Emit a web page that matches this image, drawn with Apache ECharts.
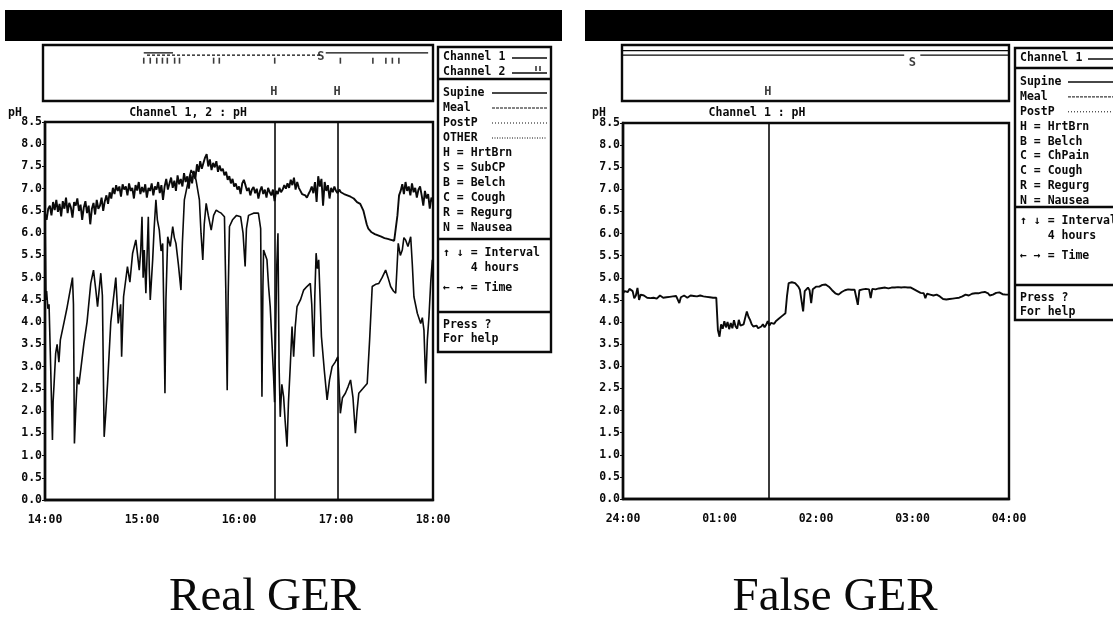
<!DOCTYPE html>
<html>
<head>
<meta charset="utf-8">
<script src="https://cdn.jsdelivr.net/npm/echarts@6/dist/echarts.min.js"></script>
<style>
  html, body { margin: 0; padding: 0; background: #fff; }
  #chart { width: 1113px; height: 617px; }
</style>
</head>
<body>
<div id="chart"></div>
<script>
// ---- time axes (minutes from start of each 4-hour window) ----
const leftTimeLabels = ['14:00', '15:00', '16:00', '17:00', '18:00'];
const rightTimeLabels = ['24:00', '01:00', '02:00', '03:00', '04:00'];

// ---- Real GER: channel 1 pH, one reading per minute (14:00-18:00) ----
const realCh1 = [
  6.45, 6.30, 6.55, 6.62, 6.40, 6.70, 6.52, 6.75, 6.48, 6.66,
  6.38, 6.72, 6.55, 6.80, 6.45, 6.68, 6.58, 6.35, 6.70, 6.62,
  6.78, 6.50, 6.64, 6.30, 6.58, 6.72, 6.45, 6.62, 6.20, 6.55,
  6.68, 6.42, 6.75, 6.55, 6.62, 6.80, 6.50, 6.72, 6.85, 6.66,
  6.92, 6.78, 7.02, 6.88, 7.08, 6.95, 7.05, 6.82, 7.10, 6.98,
  7.05, 6.85, 7.12, 6.95, 7.02, 6.78, 7.08, 6.96, 7.15, 6.88,
  7.04, 6.92, 7.10, 6.80, 7.02, 6.95, 7.12, 6.85, 7.05, 6.98,
  7.15, 6.90, 7.08, 6.75, 7.05, 7.22, 6.98, 7.12, 7.25, 7.02,
  7.18, 6.95, 7.30, 7.10, 7.22, 7.05, 7.35, 7.15, 7.28, 7.00,
  7.32, 7.12, 7.40, 7.22, 7.55, 7.38, 7.62, 7.45, 7.58, 7.70,
  7.78, 7.50, 7.66, 7.42, 7.58, 7.48, 7.62, 7.38, 7.52, 7.40,
  7.45, 7.30, 7.38, 7.20, 7.28, 7.12, 7.22, 7.05, 7.12, 6.98,
  7.05, 6.88, 7.12, 7.20, 7.08, 6.95, 7.02, 6.85, 6.98, 7.04,
  6.90, 7.00, 6.78, 6.95, 7.05, 6.88, 6.98, 6.80, 7.02, 6.92,
  6.85, 6.98, 6.72, 6.95, 6.88, 7.02, 6.92, 6.98, 7.08, 7.00,
  7.12, 7.02, 7.20, 7.08, 7.25, 6.98, 7.15, 7.02, 6.95, 6.88,
  6.92, 6.85, 6.80, 6.88, 6.95, 7.05, 6.90, 7.15, 6.70, 7.28,
  7.05, 7.22, 6.62, 7.15, 6.95, 7.08, 6.78, 7.02, 6.92, 7.05,
  6.95, 6.90, 6.98, 6.92, 6.90, 6.88, 6.86, 6.85, 6.85, 6.82,
  6.80, 6.78, 6.74, 6.70, 6.68, 6.66, 6.62, 6.50, 6.35, 6.20,
  6.10, 6.06, 6.02, 6.00, 5.98, 5.96, 5.95, 5.93, 5.92, 5.90,
  5.89, 5.88, 5.87, 5.86, 5.85, 5.84, 5.83, 5.82, 6.40, 6.85,
  6.95, 7.10, 6.88, 7.15, 6.95, 7.05, 6.85, 7.12, 6.92, 7.02,
  6.80, 6.98, 7.05, 6.85, 6.62, 6.95, 6.78, 6.88, 6.55, 6.80,
  6.70
];

// ---- Real GER: channel 2 pH as [minute, pH] ----
const realCh2 = [
  [0,6.40],[0.6,4.50],[1.0,4.70],[1.8,4.30],[2.5,4.40],[3.5,3.00],[4.6,1.35],[5.0,2.20],[5.6,2.60],[6.6,3.30],
  [7.5,3.50],[8.6,3.10],[9.5,3.60],[11.8,4.00],[13.5,4.30],[15.0,4.60],[16.5,4.90],[17.0,5.00],[17.6,4.40],[18.2,1.27],
  [19.0,2.00],[20.0,2.77],[21.0,2.60],[22.0,2.90],[24.0,3.50],[26.0,4.00],[28.3,4.87],[30.0,5.17],[31.5,4.70],[32.5,4.35],
  [34.5,5.10],[35.5,4.60],[36.6,1.42],[37.5,1.90],[38.7,2.62],[40.7,4.00],[43.8,5.00],[45.3,3.97],[46.8,4.40],[47.4,3.22],
  [48.6,4.57],[51.0,5.25],[52.5,4.90],[54.2,5.55],[56.2,5.85],[58.3,5.17],[59.2,5.60],[60.0,6.37],[60.7,5.00],[61.4,5.62],
  [62.4,4.65],[63.9,6.37],[64.5,5.20],[65.1,4.50],[66.6,5.40],[67.5,6.10],[68.6,6.75],[69.5,6.30],[70.7,6.07],[71.8,5.60],
  [72.8,5.77],[73.6,4.00],[74.2,2.40],[74.8,4.50],[75.9,5.92],[77.5,5.70],[79.0,6.15],[80.0,5.90],[81.0,5.77],[82.5,5.30],
  [84.1,4.72],[85.0,5.80],[86.2,6.75],[88.3,7.12],[90.4,7.42],[92.0,7.30],[93.4,7.20],[95.5,6.75],[96.5,6.00],[97.6,5.40],
  [98.5,6.20],[99.7,6.67],[101.0,6.40],[102.8,6.07],[104.3,6.40],[105.9,6.52],[107.5,6.48],[109.0,6.45],[111.0,6.37],[111.8,4.80],
  [112.7,2.47],[113.3,4.60],[114.1,6.15],[116.0,6.30],[118.5,6.40],[121.0,6.37],[122.5,6.00],[123.8,5.25],[124.6,6.10],[125.9,6.40],
  [129.0,6.45],[132.0,6.45],[133.4,6.10],[134.2,2.32],[134.8,4.80],[135.2,5.62],[137.3,5.40],[138.3,4.80],[139.3,4.35],[140.3,3.60],
  [141.4,2.77],[142.0,2.20],[142.6,3.60],[143.3,5.20],[144.1,6.00],[144.8,3.00],[145.5,1.87],[146.5,2.60],[147.6,2.32],[148.5,1.80],
  [149.7,1.20],[150.6,2.20],[151.7,3.00],[152.8,3.90],[153.8,3.22],[154.8,3.90],[155.9,4.35],[158.0,4.50],[160.0,4.72],[162.0,4.80],
  [164.1,4.87],[165.0,4.40],[166.2,3.22],[166.9,4.60],[167.7,5.55],[168.5,5.20],[169.3,5.40],[170.2,4.50],[171.0,3.67],[172.8,2.90],
  [174.5,2.25],[176.0,2.70],[177.6,3.00],[179.5,3.10],[181.1,3.22],[181.9,2.60],[182.7,1.95],[184.0,2.30],[185.8,2.40],[187.5,2.55],
  [189.0,2.70],[190.5,2.30],[192.0,1.50],[193.0,2.00],[194.1,2.40],[196.5,2.50],[199.3,2.62],[200.8,3.60],[202.4,4.80],[204.5,4.85],
  [206.5,4.87],[208.5,5.00],[210.7,5.17],[212.2,5.00],[213.8,4.80],[215.5,4.70],[216.9,4.65],[217.7,5.20],[218.5,5.77],[219.8,5.50],
  [221.0,5.62],[222.0,5.90],[223.0,5.85],[224.5,5.70],[226.2,5.92],[227.2,5.30],[228.2,4.57],[230.3,4.20],[232.4,3.97],[233.4,4.10],
  [234.4,3.82],[235.5,2.62],[236.5,3.60],[237.5,4.12],[238.6,4.90],[239.6,5.40],[240.0,5.40]
];

// ---- False GER: channel 1 pH, one reading per minute (24:00-04:00) ----
const falseCh1 = [
  4.65, 4.70, 4.73, 4.68, 4.75, 4.77, 4.70, 4.54, 4.60, 4.77,
  4.50, 4.62, 4.65, 4.60, 4.58, 4.55, 4.56, 4.54, 4.58, 4.55,
  4.56, 4.53, 4.55, 4.60, 4.57, 4.55, 4.58, 4.56, 4.54, 4.57,
  4.60, 4.58, 4.56, 4.59, 4.55, 4.43, 4.56, 4.58, 4.60, 4.57,
  4.55, 4.58, 4.60, 4.56, 4.59, 4.62, 4.58, 4.55, 4.60, 4.57,
  4.58, 4.55, 4.57, 4.54, 4.56, 4.52, 4.55, 4.54, 4.55, 3.82,
  3.67, 3.95, 3.85, 4.02, 3.88, 4.00, 3.84, 3.98, 3.86, 4.04,
  3.90, 3.85, 4.05, 3.92, 3.88, 3.95, 4.10, 4.24, 4.12, 4.05,
  3.95, 3.90, 3.88, 3.92, 3.86, 3.87, 3.90, 3.95, 3.88, 3.94,
  4.02, 3.92, 3.98, 4.00, 3.96, 4.02, 4.05, 4.08, 4.10, 4.14,
  4.16, 4.20, 4.60, 4.88, 4.92, 4.90, 4.88, 4.88, 4.84, 4.80,
  4.73, 4.70, 4.24, 4.70, 4.73, 4.78, 4.72, 4.43, 4.74, 4.78,
  4.80, 4.78, 4.80, 4.82, 4.84, 4.83, 4.85, 4.84, 4.80, 4.76,
  4.72, 4.68, 4.65, 4.64, 4.62, 4.66, 4.68, 4.70, 4.72, 4.70,
  4.74, 4.71, 4.73, 4.72, 4.73, 4.70, 4.39, 4.72, 4.75, 4.74,
  4.76, 4.75, 4.77, 4.74, 4.54, 4.75, 4.76, 4.74, 4.77, 4.76,
  4.75, 4.77, 4.76, 4.78, 4.77, 4.76, 4.79, 4.78, 4.80, 4.78,
  4.77, 4.79, 4.80, 4.78, 4.80, 4.79, 4.80, 4.78, 4.77, 4.78,
  4.76, 4.74, 4.72, 4.70, 4.68, 4.66, 4.65, 4.65, 4.54, 4.64,
  4.63, 4.62, 4.62, 4.60, 4.61, 4.62, 4.60, 4.58, 4.55, 4.52,
  4.50, 4.51, 4.50, 4.52, 4.51, 4.53, 4.52, 4.54, 4.54, 4.55,
  4.56, 4.58, 4.60, 4.62, 4.62, 4.60, 4.63, 4.64, 4.62, 4.65,
  4.66, 4.65, 4.68, 4.67, 4.69, 4.68, 4.66, 4.65, 4.60, 4.58,
  4.62, 4.64, 4.66, 4.65, 4.67, 4.65, 4.63, 4.64, 4.62, 4.63,
  4.62
];

// ---- event strips (minutes) ----
const realHeartburn = [142, 181];
const realSymptomS = [171];
const realMealPeriod = [64, 171];
const realSupinePeriods = [[62, 80], [174, 237]];
const realStripTicks = [62, 66, 70, 73.5, 76.5, 81, 84, 105, 108.5, 142.6, 183, 203, 211, 215, 219];
const falseHeartburn = [90.5];
const falseSymptomS = [180];
const falseSupinePeriod = [0, 240];

// ---- legend panels ----
const realLegendChannels = ['Channel 1', 'Channel 2'];
const realLegendSymbols = ['Supine', 'Meal', 'PostP', 'OTHER', 'H = HrtBrn', 'S = SubCP', 'B = Belch', 'C = Cough', 'R = Regurg', 'N = Nausea'];
const falseLegendChannels = ['Channel 1'];
const falseLegendSymbols = ['Supine', 'Meal', 'PostP', 'H = HrtBrn', 'B = Belch', 'C = ChPain', 'C = Cough', 'R = Regurg', 'N = Nausea'];
const intervalText = ['\u2191 \u2193 = Interval', '    4 hours', '\u2190 \u2192 = Time'];
const helpText = ['Press ?', 'For help'];
const captions = ['Real GER', 'False GER'];
const plotTitles = ['Channel 1, 2 : pH', 'Channel 1 : pH'];

// ---------------------------------------------------------------
const INK = '#0a0a0a';
const MONO = '"DejaVu Sans Mono", "Liberation Mono", monospace';
const FSIZE = 11.5;
const FONT = 'bold ' + FSIZE + 'px ' + MONO;

function timeAxis(gridIndex, labels) {
  return {
    type: 'value', gridIndex: gridIndex, min: 0, max: 240, interval: 60,
    axisLine: { show: true, lineStyle: { color: INK, width: 2.4 } },
    axisTick: { show: false },
    splitLine: { show: false },
    axisLabel: {
      color: INK, fontFamily: MONO, fontWeight: 'bold', fontSize: FSIZE, margin: 14,
      formatter: v => labels[Math.round(v / 60)]
    }
  };
}
function phAxis(gridIndex) {
  return {
    type: 'value', gridIndex: gridIndex, min: 0, max: 8.5, interval: 0.5,
    axisLine: { show: true, lineStyle: { color: INK, width: 2.4 } },
    axisTick: { show: true, length: 3, lineStyle: { color: INK, width: 1 } },
    splitLine: { show: false },
    axisLabel: {
      color: INK, fontFamily: MONO, fontWeight: 'bold', fontSize: FSIZE, margin: 3,
      formatter: v => v.toFixed(1)
    }
  };
}
function hiddenAxis(gridIndex, max) {
  return { type: 'value', gridIndex: gridIndex, min: 0, max: max, show: false };
}
function markers(list) {
  return {
    silent: true, symbol: ['none', 'none'], label: { show: false },
    lineStyle: { color: INK, width: 1.6, type: 'solid' },
    data: list.map(t => ({ xAxis: t }))
  };
}
function letterSeries(x, y, list, letter, level) {
  return {
    type: 'scatter', xAxisIndex: x, yAxisIndex: y, symbolSize: 1, silent: true,
    itemStyle: { color: 'rgba(0,0,0,0)' },
    label: { show: true, position: 'inside', formatter: letter, color: INK, fontFamily: MONO, fontWeight: 'bold', fontSize: FSIZE + 0.5 },
    data: list.map(t => [t, level])
  };
}
function segmentSeries(x, y, segments, level, style) {
  const data = [];
  segments.forEach((s, i) => {
    if (i > 0) data.push(null);
    data.push([s[0], level], [s[1], level]);
  });
  return {
    type: 'line', xAxisIndex: x, yAxisIndex: y, showSymbol: false, connectNulls: false, silent: true,
    lineStyle: Object.assign({ color: INK, width: 1.3 }, style), data: data
  };
}

// ---- static panel graphics: header bars, legend boxes, captions ----
const g = [];
function rect(x, y, w, h, fill, stroke, lw) {
  g.push({ type: 'rect', shape: { x: x, y: y, width: w, height: h },
    style: { fill: fill || 'none', stroke: stroke || null, lineWidth: lw || 0 }, silent: true });
}
function hline(x1, x2, y, lw, dash) {
  g.push({ type: 'line', shape: { x1: x1, y1: y, x2: x2, y2: y },
    style: { stroke: INK, lineWidth: lw || 1.2, lineDash: dash || null }, silent: true });
}
function text(str, x, y, font, align) {
  g.push({ type: 'text', x: x, y: y, silent: true,
    style: { text: str, font: font || FONT, fill: INK, align: align || 'left', verticalAlign: 'middle' } });
}
const sampleDash = { Supine: null, Meal: [3, 1], PostP: [1, 2], OTHER: [1, 1.5] };

function legendPanel(x, w, top, chanBottom, symBottom, intBottom, bottom, channels, symbols, rowStep, sampleX) {
  rect(x, top, w, bottom - top, '#fff', INK, 2.4);
  hline(x, x + w, chanBottom, 2.4);
  hline(x, x + w, symBottom, 2.4);
  hline(x, x + w, intBottom, 2.4);
  const tx = x + 5;
  channels.forEach((c, i) => {
    const y = top + 10 + i * 15;
    text(c, tx, y);
    hline(sampleX + 20, x + w - 4, y + 1, 1.5);
  });
  symbols.forEach((s, i) => {
    const y = chanBottom + 14 + i * rowStep;
    text(s, tx, y);
    if (s in sampleDash) hline(sampleX, x + w - 4, y, s === 'Supine' ? 1.5 : 1, sampleDash[s]);
  });
  text(intervalText[0], tx, symBottom + 14);
  text(intervalText[1], tx, symBottom + 29);
  text(intervalText[2], tx, symBottom + 49);
  text(helpText[0], tx, intBottom + 13);
  text(helpText[1], tx, intBottom + 27);
}

// header bars
rect(5, 10, 557, 31, '#000');
rect(585, 10, 540, 31, '#000');

// legends
legendPanel(438, 113, 47, 79, 239, 312, 352, realLegendChannels, realLegendSymbols, 15, 492);
// channel-2 marker ticks
g.push({ type: 'line', shape: { x1: 536, y1: 66, x2: 536, y2: 71 }, style: { stroke: INK, lineWidth: 1.3 }, silent: true });
g.push({ type: 'line', shape: { x1: 540, y1: 66, x2: 540, y2: 71 }, style: { stroke: INK, lineWidth: 1.3 }, silent: true });
legendPanel(1015, 110, 48, 68, 207, 285, 320, falseLegendChannels, falseLegendSymbols, 14.9, 1068);

// plot titles and y-axis unit
text(plotTitles[0], 188, 113, FONT, 'center');
text('pH', 8, 113);
text(plotTitles[1], 757, 113, FONT, 'center');
text('pH', 592, 113);

// captions
const CAPFONT = '47px "Liberation Serif", "Times New Roman", serif';
text(captions[0], 265, 598, CAPFONT, 'center');
text(captions[1], 835, 598, CAPFONT, 'center');

const chart = echarts.init(document.getElementById('chart'), null, { renderer: 'canvas' });
chart.setOption({
  animation: false,
  backgroundColor: '#fff',
  grid: [
    { left: 45, top: 122, width: 388, height: 378, show: true, borderColor: INK, borderWidth: 2.4, backgroundColor: '#fff' },
    { left: 43, top: 45, width: 390, height: 56, show: true, borderColor: INK, borderWidth: 2.4, backgroundColor: '#fff' },
    { left: 623, top: 123, width: 386, height: 376, show: true, borderColor: INK, borderWidth: 2.4, backgroundColor: '#fff' },
    { left: 622, top: 45, width: 387, height: 56, show: true, borderColor: INK, borderWidth: 2.4, backgroundColor: '#fff' }
  ],
  xAxis: [
    timeAxis(0, leftTimeLabels),
    hiddenAxis(1, 240),
    timeAxis(2, rightTimeLabels),
    hiddenAxis(3, 240)
  ],
  yAxis: [
    phAxis(0),
    hiddenAxis(1, 10),
    phAxis(2),
    hiddenAxis(3, 10)
  ],
  series: [
    {
      name: 'Channel 1', type: 'line', xAxisIndex: 0, yAxisIndex: 0, showSymbol: false, silent: true,
      lineStyle: { color: INK, width: 1.9 },
      data: realCh1.map((v, i) => [i, v]),
      markLine: markers(realHeartburn)
    },
    {
      name: 'Channel 2', type: 'line', xAxisIndex: 0, yAxisIndex: 0, showSymbol: false, silent: true,
      lineStyle: { color: INK, width: 1.6 },
      data: realCh2
    },
    {
      name: 'Channel 1 ', type: 'line', xAxisIndex: 2, yAxisIndex: 2, showSymbol: false, silent: true,
      lineStyle: { color: INK, width: 1.9 },
      data: falseCh1.map((v, i) => [i, v]),
      markLine: markers(falseHeartburn)
    },
    // event strip, Real GER
    segmentSeries(1, 1, [realMealPeriod], 8.2, { type: [3, 2] }),
    segmentSeries(1, 1, realSupinePeriods, 8.6, {}),
    {
      type: 'scatter', xAxisIndex: 1, yAxisIndex: 1, symbol: 'rect', symbolSize: [1.6, 6], silent: true,
      itemStyle: { color: INK }, data: realStripTicks.map(t => [t, 7.2])
    },
    letterSeries(1, 1, realHeartburn, 'H', 1.6),
    letterSeries(1, 1, realSymptomS, 'S', 7.8),
    // event strip, False GER
    segmentSeries(3, 3, [falseSupinePeriod], 9.0, {}),
    segmentSeries(3, 3, [[falseSupinePeriod[0], falseSymptomS[0] - 5], [falseSymptomS[0] + 5, falseSupinePeriod[1]]], 8.2, {}),
    letterSeries(3, 3, falseHeartburn, 'H', 1.6),
    letterSeries(3, 3, falseSymptomS, 'S', 6.8)
  ],
  graphic: g
});
</script>
</body>
</html>
